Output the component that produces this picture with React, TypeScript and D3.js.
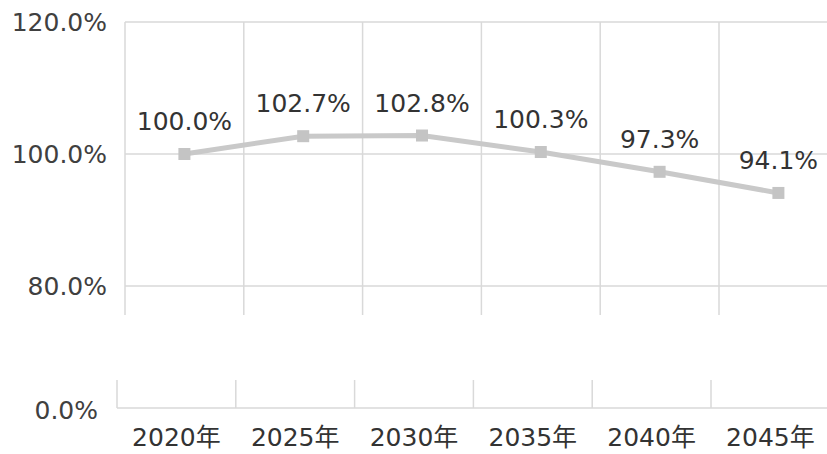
import React, { useEffect, useRef } from 'react'
import * as d3 from 'd3'

const years = ['2020年', '2025年', '2030年', '2035年', '2040年', '2045年']
const ratios = [100.0, 102.7, 102.8, 100.3, 97.3, 94.1]
const topTicks = [80, 100, 120]

const App = () => {
  const svgRef = useRef(null)

  useEffect(() => {
    if (!svgRef.current) return
    const svg = d3.select(svgRef.current)
    svg.selectAll('*').remove()
    const width = 827
    const height = 454
    const font = '"DejaVu Sans", "Noto Sans CJK JP", sans-serif'
    const fs = 25
    const grid = '#d9d9d9'
    const band = 118.8

    svg.attr('width', width).attr('height', height)

    // upper (broken) panel
    const xTop = d3
      .scaleBand()
      .domain(years)
      .range([125, 125 + band * years.length])
    const yTop = d3.scaleLinear().domain([80, 120]).range([286, 22])

    const top = svg.append('g')
    top
      .selectAll('line.h')
      .data(topTicks)
      .join('line')
      .attr('x1', 125)
      .attr('x2', width)
      .attr('y1', (d) => yTop(d))
      .attr('y2', (d) => yTop(d))
      .attr('stroke', grid)
      .attr('stroke-width', 1.5)
    top
      .selectAll('line.v')
      .data(years)
      .join('line')
      .attr('x1', (d) => xTop(d)!)
      .attr('x2', (d) => xTop(d)!)
      .attr('y1', yTop(120))
      .attr('y2', 315)
      .attr('stroke', grid)
      .attr('stroke-width', 1.5)
    top
      .selectAll('text.yl')
      .data(topTicks)
      .join('text')
      .attr('x', 107)
      .attr('y', (d) => yTop(d) + 9)
      .attr('text-anchor', 'end')
      .attr('font-family', font)
      .attr('font-size', fs)
      .attr('fill', '#404040')
      .text((d) => d.toFixed(1) + '%')

    // lower panel
    const xBot = d3
      .scaleBand()
      .domain(years)
      .range([117, 117 + band * years.length])
    const yBot = d3.scaleLinear().domain([0, 10]).range([408, 380])

    const bot = svg.append('g')
    bot
      .append('line')
      .attr('x1', 117)
      .attr('x2', width)
      .attr('y1', yBot(0))
      .attr('y2', yBot(0))
      .attr('stroke', grid)
      .attr('stroke-width', 1.5)
    bot
      .selectAll('line.v')
      .data(years)
      .join('line')
      .attr('x1', (d) => xBot(d)!)
      .attr('x2', (d) => xBot(d)!)
      .attr('y1', yBot(10))
      .attr('y2', yBot(0))
      .attr('stroke', grid)
      .attr('stroke-width', 1.5)
    bot
      .append('text')
      .attr('x', 98)
      .attr('y', yBot(0) + 11)
      .attr('text-anchor', 'end')
      .attr('font-family', font)
      .attr('font-size', fs)
      .attr('fill', '#404040')
      .text('0.0%')
    bot
      .selectAll('text.xl')
      .data(years)
      .join('text')
      .attr('x', (d) => xBot(d)! + xBot.bandwidth() / 2)
      .attr('y', 446)
      .attr('text-anchor', 'middle')
      .attr('font-family', font)
      .attr('font-size', fs)
      .attr('fill', '#333')
      .text((d) => d)

    // series
    const cx = (i: number) => xTop(years[i])! + xTop.bandwidth() / 2
    const line = d3
      .line<number>()
      .x((_, i) => cx(i))
      .y((d) => yTop(d))
    top
      .append('path')
      .datum(ratios)
      .attr('d', line)
      .attr('fill', 'none')
      .attr('stroke', '#c9c9c9')
      .attr('stroke-width', 5)
    top
      .selectAll('rect.m')
      .data(ratios)
      .join('rect')
      .attr('x', (_, i) => cx(i) - 6)
      .attr('y', (d) => yTop(d) - 6)
      .attr('width', 12)
      .attr('height', 12)
      .attr('fill', '#c4c4c4')
    top
      .selectAll('text.dl')
      .data(ratios)
      .join('text')
      .attr('x', (_, i) => cx(i))
      .attr('y', (d) => yTop(d) - 24)
      .attr('text-anchor', 'middle')
      .attr('font-family', font)
      .attr('font-size', fs)
      .attr('fill', '#333')
      .text((d) => d.toFixed(1) + '%')
  }, [])

  return (
    <svg
      ref={svgRef}
      style={{ position: 'absolute', left: 0, top: 0, background: '#fff' }}
    ></svg>
  )
}

export default App
